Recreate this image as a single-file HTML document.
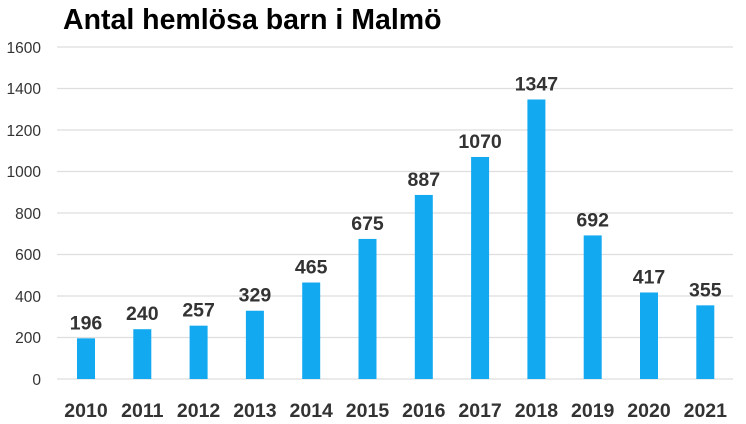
<!DOCTYPE html>
<html><head><meta charset="utf-8"><style>
html,body{margin:0;padding:0;background:#fff;}
svg{display:block;}
text{font-family:"Liberation Sans",Arial,sans-serif;}
</style></head><body>
<svg width="746" height="424" xmlns="http://www.w3.org/2000/svg">
<text x="63" y="29" font-size="28.5" font-weight="bold" fill="#000">Antal hemlösa barn i Malmö</text>
<g stroke="#dedede" stroke-width="1.3">
<line x1="57" x2="733" y1="47" y2="47"/>
<line x1="57" x2="733" y1="88.5" y2="88.5"/>
<line x1="57" x2="733" y1="130" y2="130"/>
<line x1="57" x2="733" y1="171.5" y2="171.5"/>
<line x1="57" x2="733" y1="213" y2="213"/>
<line x1="57" x2="733" y1="254.5" y2="254.5"/>
<line x1="57" x2="733" y1="296" y2="296"/>
<line x1="57" x2="733" y1="337.5" y2="337.5"/>
<line x1="57" x2="733" y1="379" y2="379"/>
</g>
<g font-size="15.5" fill="#333" text-anchor="end">
<text x="41" y="53">1600</text><text x="41" y="94">1400</text><text x="41" y="136">1200</text><text x="41" y="177">1000</text>
<text x="41" y="219">800</text><text x="41" y="260">600</text><text x="41" y="302">400</text><text x="41" y="343">200</text><text x="41" y="385">0</text>
</g>
<g id="bars" fill="#13a9f1"></g>
<g id="vals" font-size="19.5" font-weight="bold" fill="#333" text-anchor="middle"></g>
<g id="yrs" font-size="19.5" font-weight="bold" fill="#333" text-anchor="middle"></g>
</svg>
<script>
var d=[196,240,257,329,465,675,887,1070,1347,692,417,355];
var ns="http://www.w3.org/2000/svg";
for(var i=0;i<d.length;i++){
 var cx=86+i*56.3, h=d[i]*0.2075, y=379-h;
 var r=document.createElementNS(ns,"rect");
 r.setAttribute("x",cx-9);r.setAttribute("y",y);r.setAttribute("width",18);r.setAttribute("height",h);
 document.getElementById("bars").appendChild(r);
 var t=document.createElementNS(ns,"text");
 t.setAttribute("x",cx);t.setAttribute("y",y-9);t.textContent=d[i];
 document.getElementById("vals").appendChild(t);
 var t2=document.createElementNS(ns,"text");
 t2.setAttribute("x",cx);t2.setAttribute("y",417);t2.textContent=2010+i;
 document.getElementById("yrs").appendChild(t2);
}
</script>
</body></html>
